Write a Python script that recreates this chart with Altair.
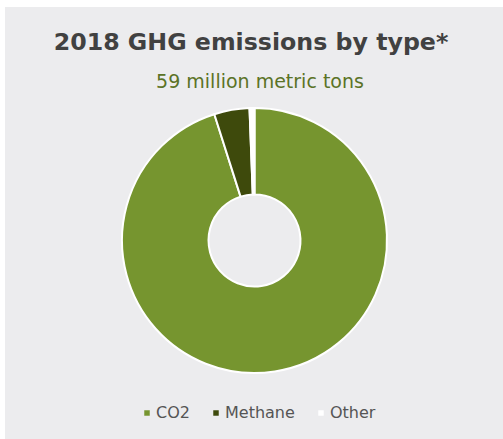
import altair as alt
import pandas as pd

# 2018 greenhouse-gas emissions by type, share of total (%)
gases = ["CO2", "Methane", "Other"]
shares = [95.1, 4.3, 0.6]
gas_colors = ["#76952f", "#3e4a0c", "#ffffff"]

title_text = "2018 GHG emissions by type*"
subtitle_text = "59 million metric tons"

df = pd.DataFrame({"gas": gases, "share": shares, "idx": list(range(len(gases)))})
df_title = pd.DataFrame({"t": [title_text]})
df_sub = pd.DataFrame({"t": [subtitle_text]})

PANEL = "#ececee"
FONT = "DejaVu Sans"

donut = (
    alt.Chart(df)
    .mark_arc(radius=132.5, radius2=46, stroke="white", strokeWidth=2)
    .encode(
        theta=alt.Theta("share:Q", stack=True),
        order=alt.Order("idx:Q"),
        color=alt.Color(
            "gas:N",
            scale=alt.Scale(domain=gases, range=gas_colors),
            sort=gases,
            legend=alt.Legend(
                title=None,
                orient="none",
                direction="horizontal",
                legendX=17,
                legendY=297,
                symbolType="square",
                symbolSize=30,
                symbolStrokeWidth=0,
                labelFont=FONT,
                labelFontSize=16,
                labelColor="#555555",
                columnPadding=18,
                labelOffset=1,
            ),
        ),
    )
)

# heading and subheading above the donut
heading = alt.Chart(df_title).mark_text(
    font=FONT, fontSize=23.7, fontWeight="bold", color="#414141",
    align="center", baseline="alphabetic",
).encode(x=alt.value(129), y=alt.value(-58), text="t:N")

subheading = alt.Chart(df_sub).mark_text(
    font=FONT, fontSize=19, color="#5b7326",
    align="center", baseline="alphabetic",
).encode(x=alt.value(138), y=alt.value(-20), text="t:N")

# thin white margin along the top and left of the grey panel
edge_top = alt.Chart(df_title).mark_rect(color="white").encode(
    x=alt.value(-122), x2=alt.value(381), y=alt.value(-108), y2=alt.value(-101)
)
edge_left = alt.Chart(df_title).mark_rect(color="white").encode(
    x=alt.value(-122), x2=alt.value(-117), y=alt.value(-108), y2=alt.value(331)
)

chart = (
    alt.layer(edge_top, edge_left, heading, subheading, donut)
    .properties(
        width=265,
        height=265,
        padding={"left": 122, "top": 108, "right": 116, "bottom": 66},
        autosize=alt.AutoSizeParams(type="none"),
        background=PANEL,
    )
    .configure_view(stroke=None)
)

chart.save("out.html", embed_options={"renderer": "svg", "actions": False})
